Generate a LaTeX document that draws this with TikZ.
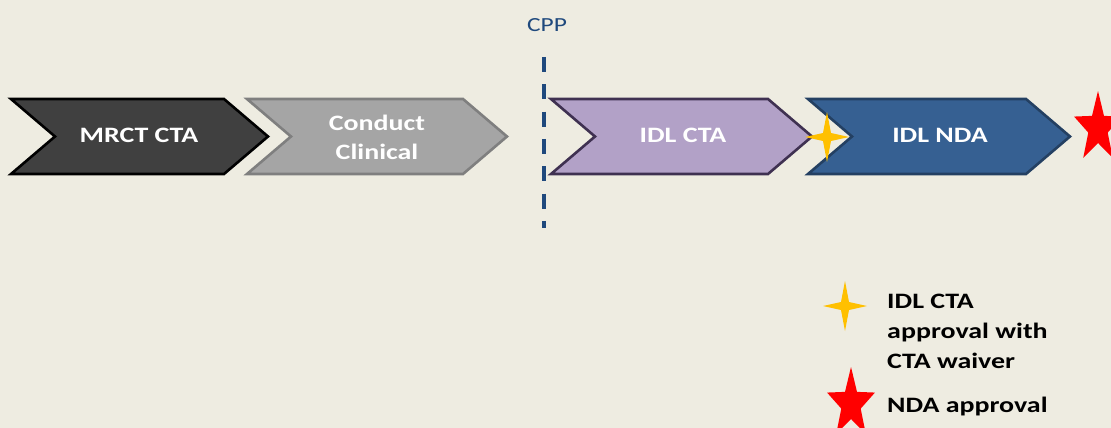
\documentclass[tikz,border=0pt]{standalone}
\usepackage{fontspec}
\setmainfont[FakeStretch=1.27]{Carlito}
\definecolor{bg}{HTML}{EEECE1}
\definecolor{cppblue}{HTML}{1F497D}
\definecolor{darkfill}{HTML}{404040}
\definecolor{greyfill}{HTML}{A5A5A5}
\definecolor{greyline}{HTML}{7F7F7F}
\definecolor{lilac}{HTML}{B2A1C7}
\definecolor{lilacline}{HTML}{3F3151}
\definecolor{ndablue}{HTML}{366092}
\definecolor{ndaline}{HTML}{244062}
\definecolor{gold}{HTML}{FFC000}
\tikzset{
  chev/.style={line width=2.6pt, line join=miter},
  chevtext/.style={text=white, font=\fontsize{22}{29}\selectfont\bfseries, align=center, inner sep=0pt},
  legtext/.style={text=black, font=\fontsize{22}{30}\selectfont\bfseries, align=left, anchor=west, inner sep=0pt},
}
% #1 left x, #2 tip x, #3 style
\newcommand{\chevshape}[3]{%
  \draw[chev,#3] (#1,99) -- (#2-44,99) -- (#2,136.5) -- (#2-44,174) -- (#1,174) -- (#1+44,136.5) -- cycle;}
% four-point star at (#1,#2)
\newcommand{\fourstar}[2]{%
  \fill[gold] (#1+22,#2) -- (#1+4,#2+4) -- (#1,#2+25) -- (#1-4,#2+4) -- (#1-22,#2) -- (#1-4,#2-4) -- (#1,#2-25) -- (#1+4,#2-4) -- cycle;}
% five-point star, centre (#1,#2), point up
\newcommand{\redstar}[2]{%
  \begin{scope}[shift={(#1,#2)}, xscale=0.68, yscale=-1]
  \fill[red] (90:37) -- (126:15) -- (162:37) -- (198:15) -- (234:37) -- (270:15) -- (306:37) -- (342:15) -- (18:37) -- (54:15) -- cycle;
  \end{scope}}
\begin{document}
\begin{tikzpicture}[x=1pt,y=-1pt]
\fill[bg] (0,0) rectangle (1111,428);
\useasboundingbox (0,0) rectangle (1111,428);

% CPP marker
\node[text=cppblue, font=\fontsize{20}{20}\selectfont, inner sep=0pt] (cpp) at (547,25) {CPP};
\coordinate (cpptop) at (544,57);
\coordinate (cppbot) at (544,228);
\draw[cppblue, line width=3.2pt, dash pattern=on 15pt off 12.3pt] (cpptop) -- (cppbot);

% chevrons
\chevshape{11}{268}{fill=darkfill, draw=black}
\chevshape{247}{507}{fill=greyfill, draw=greyline}
\chevshape{551}{812}{fill=lilac, draw=lilacline}
\chevshape{808}{1070}{fill=ndablue, draw=ndaline}

\node[chevtext] (mrct) at (139,135.5) {MRCT CTA};
\node[chevtext] (conduct) at (377,137) {Conduct\\Clinical};
\node[chevtext] (idlcta) at (683,135.5) {IDL CTA};
\node[chevtext] (idlnda) at (940,135.5) {IDL NDA};

% milestones
\fourstar{827}{137}
\redstar{1098}{128}

% legend
\fourstar{845}{306}
\node[legtext] (leg1) at (887,331) {IDL CTA\\approval with\\CTA waiver};
\redstar{851}{404}
\node[legtext] (leg2) at (887,407) {NDA approval};
\end{tikzpicture}
\end{document}
